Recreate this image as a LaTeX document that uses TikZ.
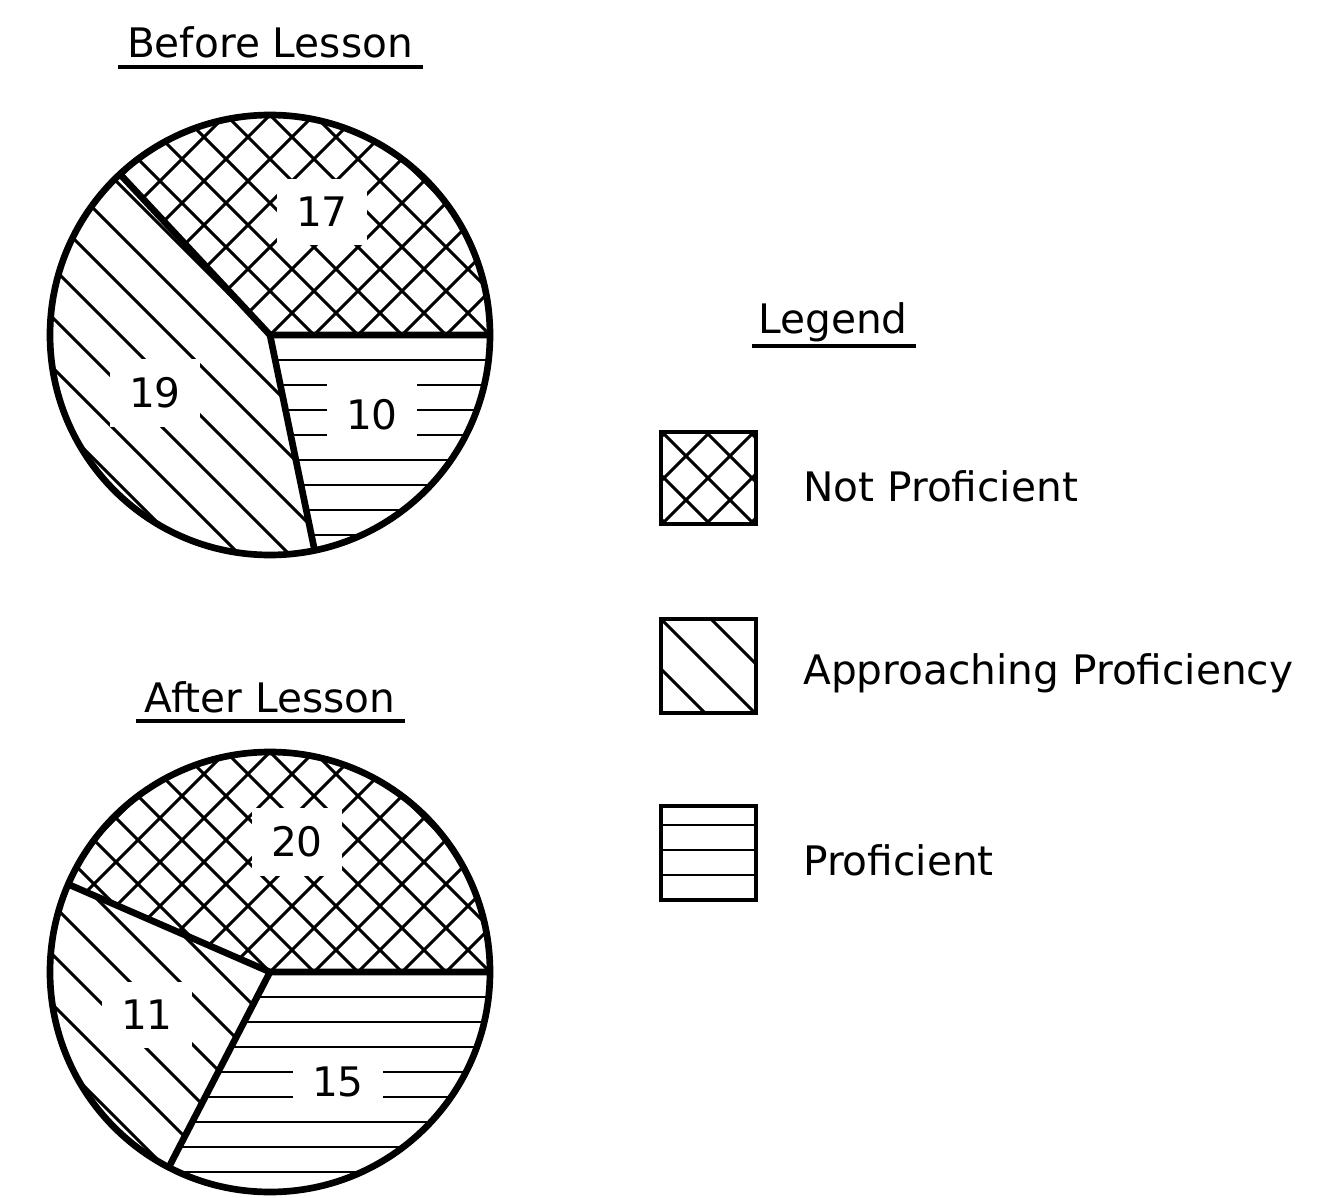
\documentclass[tikz,border=0pt]{standalone}
\usepackage{fontspec}
\setmainfont{DejaVu Sans}
\begin{document}
\begin{tikzpicture}[x=0.75pt,y=-0.75pt,
  lbl/.style={fill=white,inner sep=14pt,font=\fontsize{30.5}{36}\selectfont},
  ttl/.style={font=\fontsize{30.5}{36}\selectfont,inner sep=0pt},
  hl/.style={line width=2.2pt}]
\useasboundingbox (0,0) rectangle (1324,1198);
\def\cross{\foreach \k in {-704,-660,...,704}{\draw[hl] (\k-400,-400)--(\k+400,400); \draw[hl] (\k-400,400)--(\k+400,-400);}}
\def\diag{\foreach \k in {-700,-650,...,700}{\draw[hl] (\k-400,-400)--(\k+400,400);}}
\def\horz{\foreach \k in {-400,-375,...,400}{\draw[hl] (-400,\k)--(400,\k);}}
\def\pie#1#2#3#4{%
\begin{scope}[shift={(#1,#2)}]
 \begin{scope}\clip (0,0)--(0:220) arc[start angle=0,end angle=-#3,radius=220]--cycle; \cross \end{scope}
 \begin{scope}\clip (0,0)--(-#3:220) arc[start angle=-#3,end angle=-#4,radius=220]--cycle; \diag \end{scope}
 \begin{scope}\clip (0,0)--(-#4:220) arc[start angle=-#4,end angle=-360,radius=220]--cycle; \horz \end{scope}
 \draw[line width=5pt,line join=round] (-#3:220)--(0,0)--(0:220);
 \draw[line width=5pt] (0,0)--(-#4:220);
 \draw[line width=5pt] (0,0) circle[radius=220];
\end{scope}}
\pie{270}{335}{133}{281.7}
\pie{270}{972}{156.5}{242.6}
\node[lbl] (a1) at (322,212) {17};
\node[lbl] (a2) at (155,393) {19};
\node[lbl] (a3) at (372,415) {10};
\node[lbl] (b1) at (297,842) {20};
\node[lbl] (b2) at (147,1015) {11};
\node[lbl] (b3) at (338,1082) {15};
\node[ttl] (t1) at (270,42) {Before Lesson};
\draw[line width=3pt] (118,67)--(423,67);
\node[ttl] (t2) at (270,697) {After Lesson};
\draw[line width=3pt] (136,721)--(405,721);
\node[ttl] (t3) at (833,322) {Legend};
\draw[line width=3pt] (752,346)--(916,346);
\begin{scope}\clip (661,432) rectangle (756,524); \begin{scope}[shift={(708,478)}]\cross\end{scope}\end{scope}
\draw[line width=2.6pt] (661,432) rectangle (756,524);
\begin{scope}\clip (661,619) rectangle (756,713); \begin{scope}[shift={(708,666)}]\diag\end{scope}\end{scope}
\draw[line width=2.6pt] (661,619) rectangle (756,713);
\begin{scope}\clip (661,806) rectangle (756,900); \foreach \y in {825,850,875}{\draw[hl] (661,\y)--(756,\y);}\end{scope}
\draw[line width=2.6pt] (661,806) rectangle (756,900);
\node[ttl,anchor=west] (l1) at (803,486) {Not Proficient};
\node[ttl,anchor=west] (l2) at (803,673) {Approaching Proficiency};
\node[ttl,anchor=west] (l3) at (803,860) {Proficient};
\end{tikzpicture}
\end{document}
